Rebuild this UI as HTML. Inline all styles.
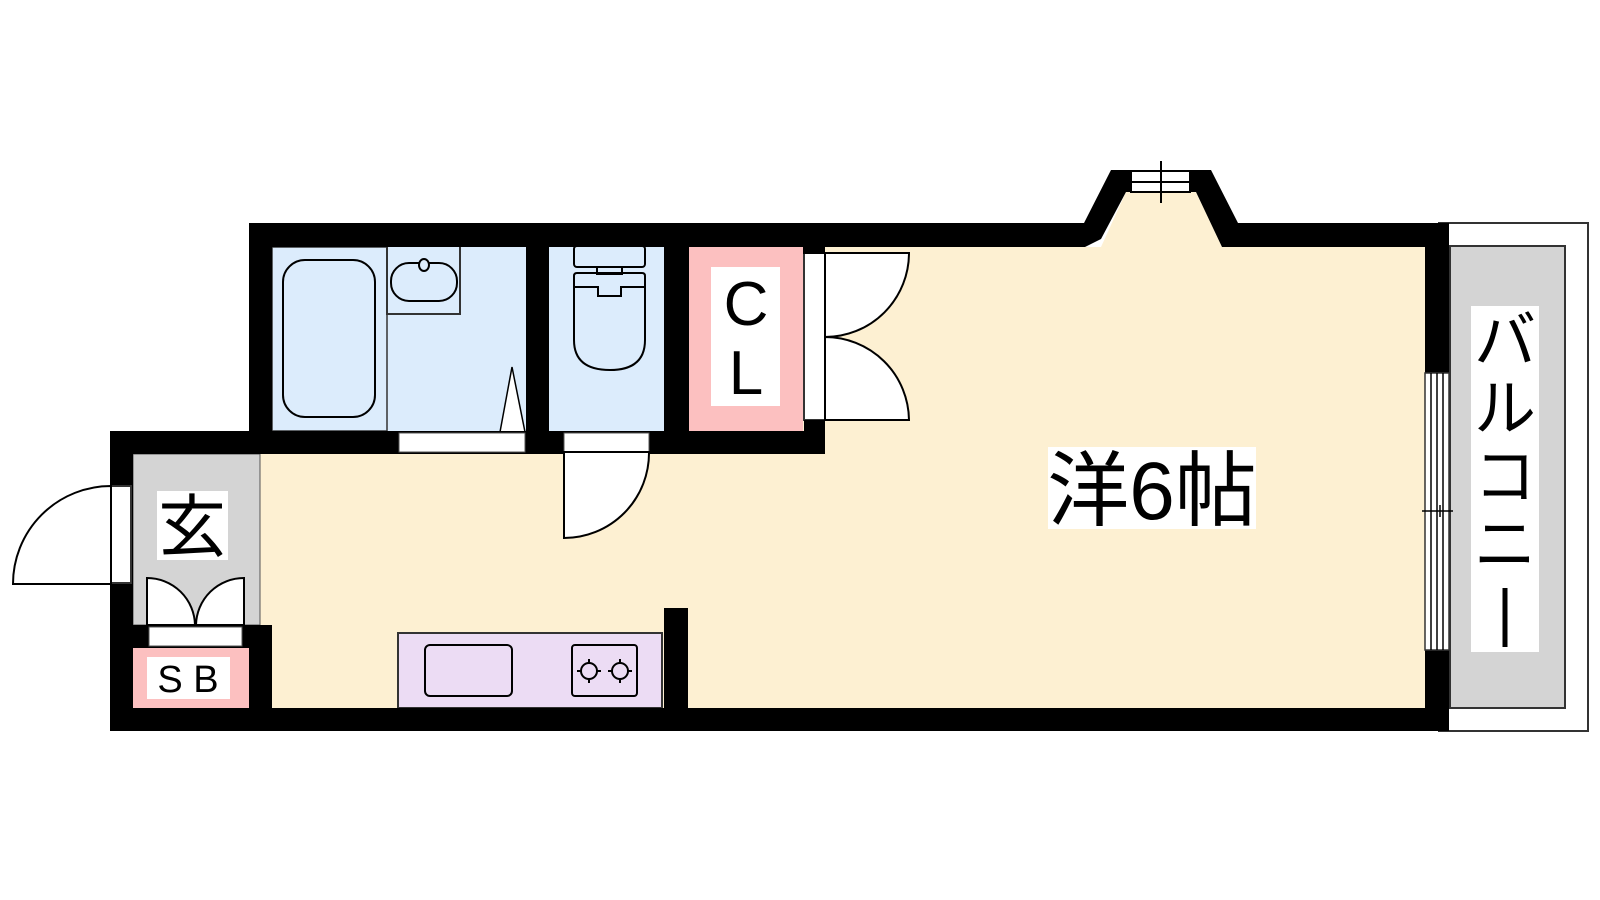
<!DOCTYPE html>
<html><head><meta charset="utf-8"><style>
html,body{margin:0;padding:0;background:#fff;}
svg{display:block;}
text{font-family:"Liberation Sans","Noto Sans CJK JP",sans-serif;}
</style></head><body>
<svg width="1600" height="900" viewBox="0 0 1600 900" xmlns="http://www.w3.org/2000/svg">
<rect width="1600" height="900" fill="#fff"/>
<!-- balcony -->
<rect x="1439" y="223" width="149" height="508" fill="#fff" stroke="#333" stroke-width="2"/>
<rect x="1450" y="246" width="115" height="462" fill="#d4d4d4" stroke="#333" stroke-width="2"/>
<rect x="1471" y="306" width="68" height="346" fill="#fff"/>
<text x="1505" y="362" font-size="62" text-anchor="middle">バ</text>
<text x="1505" y="430" font-size="62" text-anchor="middle">ル</text>
<text x="1505" y="498" font-size="62" text-anchor="middle">コ</text>
<text x="1505" y="566" font-size="62" text-anchor="middle">ニ</text>
<line x1="1505" y1="588" x2="1505" y2="647" stroke="#000" stroke-width="5"/>
<!-- main room -->
<rect x="249" y="247" width="1176" height="461" fill="#fdf0d2"/>
<rect x="133" y="454" width="120" height="254" fill="#fdf0d2"/>
<polygon points="1101,247 1126,192 1196,192 1222,247" fill="#fdf0d2"/>
<!-- bath -->
<rect x="272" y="247" width="254" height="184" fill="#dcecfc"/>
<rect x="272" y="247" width="115" height="184" fill="none" stroke="#333" stroke-width="1.5"/>
<rect x="283" y="260" width="92" height="157" rx="22" fill="none" stroke="#000" stroke-width="2"/>
<rect x="387" y="246" width="73" height="68" fill="none" stroke="#333" stroke-width="2"/>
<rect x="391" y="263" width="66" height="38" rx="18" fill="none" stroke="#000" stroke-width="2"/>
<ellipse cx="424" cy="265" rx="5" ry="6" fill="#dcecfc" stroke="#000" stroke-width="2"/>
<polygon points="500,432 512,367 525,432" fill="#fff" stroke="#000" stroke-width="1.5"/>
<!-- toilet -->
<rect x="549" y="247" width="115" height="184" fill="#dcecfc"/>
<rect x="574" y="246" width="71" height="21" rx="3" fill="none" stroke="#000" stroke-width="2"/>
<rect x="597" y="267" width="25" height="7" fill="none" stroke="#000" stroke-width="2"/>
<path d="M574,340 L574,276 Q574,273 577,273 L642,273 Q645,273 645,276 L645,340 Q645,370 610,370 Q574,370 574,340 Z" fill="none" stroke="#000" stroke-width="2"/>
<path d="M574,287 L598,287 L598,296 L621,296 L621,287 L645,287" fill="none" stroke="#000" stroke-width="2"/>
<!-- CL -->
<rect x="689" y="247" width="114" height="184" fill="#fcc0c0"/>
<rect x="711" y="267" width="69" height="139" fill="#fff"/>
<text x="746" y="325" font-size="62" text-anchor="middle">C</text>
<text x="746" y="394" font-size="62" text-anchor="middle">L</text>
<!-- CL doors -->
<rect x="804" y="253" width="21" height="167" fill="#fff" stroke="#333" stroke-width="2"/>
<path d="M825,253 L909,253 A84,84 0 0 1 825,337 Z" fill="#fff" stroke="#000" stroke-width="2"/>
<path d="M825,420 L909,420 A84,84 0 0 0 825,337 Z" fill="#fff" stroke="#000" stroke-width="2"/>
<!-- entrance -->
<rect x="133" y="454" width="127" height="171" fill="#d4d4d4" stroke="#555" stroke-width="1"/>
<rect x="157" y="491" width="71" height="69" fill="#fff"/>
<text x="192" y="551" font-size="68" text-anchor="middle">玄</text>
<path d="M147,625 L147,578 A48,48 0 0 1 195,625 Z" fill="#fff" stroke="#000" stroke-width="2"/>
<path d="M244,625 L244,578 A48,48 0 0 0 196,625 Z" fill="#fff" stroke="#000" stroke-width="2"/>
<!-- SB -->
<rect x="110" y="625" width="162" height="106" fill="#000"/>
<rect x="149" y="627" width="93" height="19" fill="#fff" stroke="#555" stroke-width="1"/>
<rect x="133" y="648" width="116" height="60" fill="#fcc0c0"/>
<rect x="147" y="657" width="83" height="42" fill="#fff"/>
<text x="188" y="692" font-size="38" text-anchor="middle">S B</text>
<!-- kitchen -->
<rect x="398" y="633" width="264" height="75" fill="#ecdcf4" stroke="#333" stroke-width="2"/>
<rect x="425" y="645" width="87" height="51" rx="5" fill="none" stroke="#000" stroke-width="2"/>
<rect x="572" y="645" width="65" height="51" rx="3" fill="none" stroke="#000" stroke-width="2"/>
<g fill="none" stroke="#000" stroke-width="2">
<circle cx="589" cy="671" r="8"/><circle cx="620" cy="671" r="8"/>
<path d="M589,659v5M589,678v5M577,671h5M596,671h5M620,659v5M620,678v5M608,671h5M627,671h5"/>
</g>
<rect x="664" y="608" width="24" height="100" fill="#000"/>
<!-- walls -->
<g fill="#000">
<rect x="249" y="223" width="836" height="24"/>
<rect x="1237" y="223" width="212" height="24"/>
<polygon points="1084,223 1111,170 1131,170 1131,192 1126,192 1101,239 1085,247"/>
<polygon points="1211,170 1238,223 1238,247 1222,247 1196,192 1190,192 1190,170"/>
<rect x="249" y="223" width="23" height="231"/>
<rect x="526" y="223" width="23" height="231"/>
<rect x="664" y="223" width="25" height="231"/>
<rect x="803" y="223" width="22" height="31"/>
<rect x="110" y="431" width="715" height="23"/>
<rect x="110" y="431" width="23" height="300"/>
<rect x="110" y="708" width="1339" height="23"/>
<rect x="1425" y="223" width="24" height="508"/>
</g>
<!-- door strips in lower top wall -->
<rect x="399" y="433" width="126" height="19" fill="#fff" stroke="#555" stroke-width="1"/>
<rect x="564" y="433" width="85" height="19" fill="#fff" stroke="#555" stroke-width="1"/>
<path d="M564,452 L649,452 A85,85 0 0 1 564,538 Z" fill="#fff" stroke="#000" stroke-width="2"/>
<rect x="804" y="420" width="21" height="11" fill="#000"/>
<!-- entrance door -->
<rect x="111" y="486" width="20" height="97" fill="#fff" stroke="#333" stroke-width="2"/>
<path d="M111,584 L13,584 A98,98 0 0 1 111,486 Z" fill="#fff" stroke="#000" stroke-width="2"/>
<!-- bay window -->
<rect x="1131" y="171" width="59" height="21" fill="#fff" stroke="#000" stroke-width="2"/>
<line x1="1131" y1="182" x2="1190" y2="182" stroke="#000" stroke-width="2"/>
<line x1="1161" y1="161" x2="1161" y2="203" stroke="#000" stroke-width="2"/>
<!-- balcony window -->
<rect x="1425" y="373" width="24" height="277" fill="#fff" stroke="#333" stroke-width="1.5"/>
<line x1="1431" y1="373" x2="1431" y2="650" stroke="#000" stroke-width="1.5"/>
<line x1="1437" y1="373" x2="1437" y2="650" stroke="#000" stroke-width="1.5"/>
<line x1="1443" y1="373" x2="1443" y2="650" stroke="#000" stroke-width="1.5"/>
<line x1="1422" y1="511" x2="1453" y2="511" stroke="#000" stroke-width="1.5"/>
<line x1="1440" y1="505" x2="1440" y2="517" stroke="#000" stroke-width="1.5"/>
<!-- room label -->
<rect x="1048" y="447" width="208" height="82" fill="#fff"/>
<text x="1152" y="519" font-size="82" text-anchor="middle">洋6帖</text>
</svg>
</body></html>
